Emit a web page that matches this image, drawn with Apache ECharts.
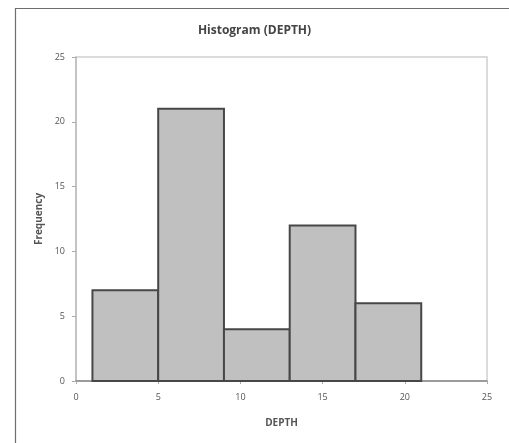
<!DOCTYPE html>
<html>
<head>
<meta charset="utf-8">
<script src="https://cdn.jsdelivr.net/npm/echarts@6/dist/echarts.min.js"></script>
<style>html,body{margin:0;padding:0;background:#fff;}#c{width:509px;height:443px;}</style>
</head>
<body>
<div id="c"></div>
<script>
var binStarts = [1, 5, 9, 13, 17];
var binEnds = [5, 9, 13, 17, 21];
var frequencies = [7, 21, 4, 12, 6];
var xTicks = [0, 5, 10, 15, 20, 25];
var yTicks = [0, 5, 10, 15, 20, 25];

var data = binStarts.map(function (s, i) { return [s, binEnds[i], frequencies[i]]; });
var chart = echarts.init(document.getElementById('c'));
var font = 'Open Sans, Liberation Sans, sans-serif';
chart.setOption({
  animation: false,
  backgroundColor: '#fff',
  graphic: [{
    type: 'rect', left: 13, top: 6, shape: { width: 520, height: 460 },
    style: { fill: 'none', stroke: '#6e6e6e', lineWidth: 1.2 }, silent: true, z: -1
  }],
  title: {
    text: 'Histogram (DEPTH)', left: 'center', top: 20,
    textStyle: { fontFamily: font, fontSize: 12, fontWeight: 'bold', color: '#444' }
  },
  grid: { left: 76, right: 22, top: 57, bottom: 62, show: true, borderColor: '#cfcfcf', borderWidth: 1.5 },
  xAxis: {
    type: 'value', min: xTicks[0], max: xTicks[xTicks.length - 1], interval: 5,
    name: 'DEPTH', nameLocation: 'middle', nameGap: 37,
    nameTextStyle: { fontFamily: font, fontSize: 10, fontWeight: 'bold', color: '#555' },
    axisLine: { show: true, lineStyle: { color: '#888', width: 1.5 } },
    axisTick: { show: true, length: 3, lineStyle: { color: '#aaa' } },
    axisLabel: { fontFamily: font, fontSize: 9, color: '#555', margin: 12 },
    splitLine: { show: false }
  },
  yAxis: {
    type: 'value', min: yTicks[0], max: yTicks[yTicks.length - 1], interval: 5,
    name: 'Frequency', nameLocation: 'middle', nameGap: 31, nameRotate: 90,
    nameTextStyle: { fontFamily: font, fontSize: 10, fontWeight: 'bold', color: '#555' },
    axisLine: { show: true, lineStyle: { color: '#bbb', width: 1.5 } },
    axisTick: { show: true, length: 4, lineStyle: { color: '#aaa' } },
    axisLabel: { fontFamily: font, fontSize: 9, color: '#555', margin: 11 },
    splitLine: { show: false }
  },
  series: [{
    type: 'custom',
    data: data,
    encode: { x: [0, 1], y: 2 },
    renderItem: function (params, api) {
      var p0 = api.coord([api.value(0), api.value(2)]);
      var p1 = api.coord([api.value(1), 0]);
      return {
        type: 'rect',
        shape: { x: p0[0], y: p0[1], width: p1[0] - p0[0], height: p1[1] - p0[1] },
        style: { fill: '#c0c0c0', stroke: '#474747', lineWidth: 2 }
      };
    }
  }]
});
</script>
</body>
</html>
